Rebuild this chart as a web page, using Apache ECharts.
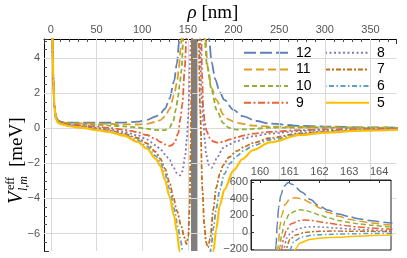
<!DOCTYPE html>
<html><head><meta charset="utf-8">
<script src="https://cdn.jsdelivr.net/npm/echarts@6/dist/echarts.min.js"></script>
<style>html,body{margin:0;padding:0;background:#fff}#c{width:407px;height:258px}</style>
</head><body><div id="c"></div>
<script>
// ---------- data ----------
const names = ['12','11','10','9','8','7','6','5'];
const xTicks = [0,50,100,150,200,250,300,350];
const yTicks = [-6,-4,-2,0,2,4];
const bandMain = [153.5, 160.5];
const bandInset = [159.6, 160.33];

// main plot, left branch (rho < ring) and right branch (rho > ring)
const rhoL12 = [1.2,1.6,2,2.7,3.8,5.7,8,12,20,35,50,65,80,95,105,115,120,125,130,135,138,140.6,142.5,144];
const vL12   = [9,5.6,4.3,2.8,1.35,0.65,0.45,0.37,0.33,0.32,0.32,0.32,0.33,0.38,0.48,0.68,0.85,1.12,1.7,2.7,3.7,5.0,7,10];
const rhoR12 = [167,169.5,171.5,173.4,176,180,185,190,200,210,225,240,273,300,340,380];
const vR12   = [12,8,6.2,5.0,3.8,2.8,2.05,1.62,1.05,0.7,0.42,0.27,0.14,0.1,0.06,0.04];

const rhoL11 = [1.2,1.6,2,2.7,3.8,5.7,8,12,20,35,50,65,80,95,105,115,120,125,130,135,138,140,142,143.5,145,147];
const vL11   = [9,5.6,4.3,2.8,1.33,0.62,0.42,0.34,0.3,0.28,0.27,0.25,0.23,0.22,0.26,0.37,0.47,0.68,1.1,1.9,2.6,3.3,4.5,5.3,7,10];
const rhoR11 = [165,167.5,169,172,176,181.5,188.7,195,203,221,240,273,300,340,380];
const vR11   = [14,7.5,5.2,3.4,2.3,1.6,0.8,0.5,0.32,0.16,0.1,0.08,0.06,0.04,0.03];

const rhoL10 = [1.2,1.6,2,2.7,3.8,5.7,8,12,20,35,50,65,80,95,105,115,120,125,130,134,137,139.3,141,143,145,147,149];
const vL10   = [9,5.6,4.3,2.8,1.32,0.6,0.4,0.32,0.26,0.22,0.2,0.16,0.11,0.05,-0.02,-0.09,-0.11,-0.1,0.05,0.4,1.1,1.8,2.5,3.3,5.1,8,11];
const rhoR10 = [164,166,168.5,171,176,181.5,188.7,195,203,212,221,240,273,300,340,380];
const vR10   = [14,8,5.0,3.6,2.2,1.05,0.3,0.03,-0.07,-0.06,-0.03,0.04,0.05,0.04,0.03,0.02];

const rhoL9 = [1.2,1.6,2,2.7,3.8,5.7,8,12,20,35,50,65,80,95,105,115,120,125,130,133,136,139.3,142,144,146.5,148.3,150,152];
const vL9   = [9,5.6,4.3,2.8,1.3,0.58,0.38,0.3,0.22,0.16,0.1,0.02,-0.08,-0.22,-0.38,-0.62,-0.78,-0.92,-1.0,-0.95,-0.75,-0.3,0.6,1.4,3.3,5.0,8,12];
const rhoR9 = [163,164.5,165.5,166.8,168.5,170.5,174,178,183,189,196,203,212,221,240,273,300,340,380];
const vR9   = [12,6,3.2,1.2,0.35,-0.15,-0.55,-0.75,-0.82,-0.76,-0.63,-0.52,-0.4,-0.3,-0.2,-0.1,-0.06,-0.04,-0.02];

const rhoL8 = [1.2,1.6,2,2.7,3.8,5.7,8,12,20,35,50,65,80,95,105,115,120,125,130,134,138,141.4,144,147,149,150.5,152.3,153.4,155];
const vL8   = [9,5.6,4.3,2.8,1.28,0.56,0.36,0.28,0.19,0.11,0.03,-0.06,-0.2,-0.4,-0.63,-0.97,-1.2,-1.48,-1.8,-2.2,-2.55,-2.68,-2.45,-1.6,-0.6,0.8,3.7,5.0,9];
const rhoR8 = [161.5,163,165,166.8,168.7,170,173,176,179,181.5,188.7,196,203.4,212,221.5,240,273,300,340,380];
const vR8   = [10,5.5,1.8,0.4,-0.7,-1.5,-2.1,-2.25,-2.0,-1.7,-1.12,-0.9,-0.74,-0.57,-0.45,-0.3,-0.15,-0.1,-0.06,-0.04];

const rhoL7 = [1.2,1.6,2,2.7,3.8,5.7,8,12,20,35,50,65,80,95,105,115,120,125,130,134,138,143,146,148.5,150.5,152,153,154,155];
const vL7   = [9,5.6,4.3,2.8,1.27,0.55,0.34,0.26,0.16,0.07,-0.03,-0.12,-0.3,-0.55,-0.85,-1.35,-1.75,-2.3,-3.1,-3.9,-4.7,-5.6,-6.2,-6.6,-6.2,-4.5,-1.5,2.5,8];
const rhoR7 = [161.5,163.5,166,168,170,172,174.5,178,181,185,188.7,195,203.4,212,221.5,240,273,300,340,380];
const vR7   = [8,1,-3.5,-5.5,-6.5,-6.8,-6.3,-4.6,-3.4,-2.6,-2.1,-1.65,-1.3,-1.05,-0.83,-0.55,-0.28,-0.18,-0.1,-0.06];

const rhoL6 = [1.2,1.6,2,2.7,3.8,5.7,8,12,20,35,50,65,80,95,105,115,120,125,130,135,139,142,145,147];
const vL6   = [9,5.6,4.3,2.8,1.26,0.54,0.33,0.25,0.14,0.05,-0.07,-0.17,-0.36,-0.66,-1.02,-1.58,-1.95,-2.6,-3.45,-4.6,-5.6,-6.4,-7.2,-8.5];
const rhoR6 = [170,173,175.5,178,181,185,190,196,203,212,221,240,273,300,340,380];
const vR6   = [-10,-8,-6.8,-5.7,-4.6,-3.5,-2.6,-2.0,-1.6,-1.25,-1.0,-0.65,-0.33,-0.2,-0.12,-0.07];

const rhoL5 = [1.2,1.6,2,2.7,3.8,5.7,8,12,20,35,50,65,80,95,105,115,120,125,130,135,138,141,143.5];
const vL5   = [9,5.6,4.3,2.8,1.25,0.52,0.31,0.23,0.12,0.03,-0.1,-0.21,-0.42,-0.77,-1.15,-1.75,-2.15,-2.95,-3.9,-5.0,-5.9,-7.0,-8.5];
const rhoR5 = [173,176,178,181,185,190,200,210,221,240,273,300,340,380];
const vR5   = [-10,-7.8,-7.0,-5.8,-4.4,-3.5,-2.4,-1.75,-1.25,-0.8,-0.38,-0.24,-0.13,-0.08];

// inset (rho 160..164 nm)
const rhoI12 = [160.50,160.54,160.58,160.63,160.70,160.80,160.95,161.10,161.40,161.70,161.96,162.30,162.63,163.00,163.30,163.75,164.30,164.45];
const vI12   = [-400,-166,97,300,440,550,594,570,481,390,319,262,218,185,160,135,113,108];
const rhoI11 = [160.57,160.62,160.67,160.73,160.84,161.00,161.17,161.40,161.73,162.00,162.30,162.63,163.00,163.30,163.75,164.30,164.45];
const vI11   = [-400,-150,70,200,330,395,412,400,350,290,235,190,155,132,108,88,84];
const rhoI10 = [160.62,160.67,160.73,160.84,161.00,161.29,161.50,161.73,162.00,162.30,162.63,163.00,163.30,163.75,164.30,164.45];
const vI10   = [-400,-180,-20,130,225,267,262,240,205,170,140,115,100,82,65,61];
const rhoI9 = [160.68,160.73,160.80,160.90,161.05,161.29,161.50,161.73,162.00,162.30,162.63,163.00,163.30,163.75,164.30,164.45];
const vI9   = [-400,-200,-60,30,100,135,145,140,125,108,90,72,62,48,36,33];
const rhoI8 = [160.74,160.80,160.90,161.05,161.29,161.50,161.80,162.10,162.50,163.00,163.50,164.00,164.30,164.45];
const vI8   = [-400,-200,-70,0,40,58,64,60,50,38,28,20,16,14];
const rhoI7 = [160.81,160.88,161.00,161.20,161.50,161.90,162.40,163.00,163.60,164.30,164.45];
const vI7   = [-400,-200,-90,-35,-5,8,12,11,9,7,6];
const rhoI6 = [160.93,161.00,161.15,161.40,161.80,162.30,162.63,163.20,163.80,164.30,164.45];
const vI6   = [-400,-210,-110,-60,-34,-28,-24,-19,-17,-16,-15];
const rhoI5 = [161.10,161.17,161.35,161.70,162.10,162.63,163.20,163.80,164.30,164.45];
const vI5   = [-400,-210,-130,-85,-70,-62,-50,-42,-37,-35];

// ---------- styles ----------
const colors = ['#5E81B5','#E19C24','#8FB032','#EB6235','#8778B3','#C56E1A','#5D9EC7','#FFBF00'];
const dashes = [[12,4],[8,4],[5,3],[7,2.5,2,2.5],[2,2.5],[5,2,2,2],[1.5,2.5,5,2.5],'solid'];
const widths = [1.8,1.8,1.8,1.8,1.8,1.8,1.8,2.2];

const mainL = [[rhoL12,vL12],[rhoL11,vL11],[rhoL10,vL10],[rhoL9,vL9],[rhoL8,vL8],[rhoL7,vL7],[rhoL6,vL6],[rhoL5,vL5]];
const mainR = [[rhoR12,vR12],[rhoR11,vR11],[rhoR10,vR10],[rhoR9,vR9],[rhoR8,vR8],[rhoR7,vR7],[rhoR6,vR6],[rhoR5,vR5]];
const inset = [[rhoI12,vI12],[rhoI11,vI11],[rhoI10,vI10],[rhoI9,vI9],[rhoI8,vI8],[rhoI7,vI7],[rhoI6,vI6],[rhoI5,vI5]];

const pairs = (r, v) => r.map((x, i) => [x, v[i]]);
const gapX = (bandMain[0] + bandMain[1]) / 2;

const lblFont = 'Liberation Sans';
const serif = 'Liberation Serif';
const minusFmt = v => String(v).replace('-', '\u2212');

const series = [];
// gridlines
series.push({
  type: 'line', data: [], xAxisIndex: 0, yAxisIndex: 0, z: 1, silent: true,
  markLine: {
    silent: true, symbol: ['none','none'], animation: false,
    label: { show: false },
    lineStyle: { type: 'solid', color: '#dadada', width: 1 },
    data: xTicks.map(v => ({ xAxis: v })).concat(yTicks.map(v => ({ yAxis: v })))
  }
});
// gray band main
series.push({
  type: 'line', data: [], xAxisIndex: 0, yAxisIndex: 0, z: 1.5, silent: true,
  markArea: { silent: true, itemStyle: { color: '#7f7f7f', opacity: 1 },
    data: [[{ xAxis: bandMain[0] }, { xAxis: bandMain[1] }]] }
});
names.forEach((n, i) => {
  series.push({
    type: 'line', name: n, xAxisIndex: 0, yAxisIndex: 0, z: 3 + i,
    data: pairs(mainL[i][0], mainL[i][1]).concat([[gapX, '-']], pairs(mainR[i][0], mainR[i][1])),
    symbol: 'none', smooth: 0.3, smoothMonotone: 'x', clip: true, connectNulls: false,
    lineStyle: { color: colors[i], width: widths[i], type: dashes[i] },
    itemStyle: { color: colors[i] }
  });
});
// inset band
series.push({
  type: 'line', data: [], xAxisIndex: 1, yAxisIndex: 1, zlevel: 1, z: 1, silent: true,
  markArea: { silent: true, itemStyle: { color: '#7f7f7f', opacity: 1 },
    data: [[{ xAxis: bandInset[0] }, { xAxis: bandInset[1] }]] }
});
names.forEach((n, i) => {
  series.push({
    type: 'line', name: n, xAxisIndex: 1, yAxisIndex: 1, zlevel: 1, z: 3 + i,
    data: pairs(inset[i][0], inset[i][1]),
    symbol: 'none', smooth: 0.3, smoothMonotone: 'x', clip: true,
    lineStyle: { color: colors[i], width: 1.5, type: dashes[i] }
  });
});

const legendBase = {
  orient: 'vertical', itemWidth: 44, itemHeight: 14, itemGap: 2.7, top: 45.7,
  selectedMode: false, padding: 0,
  itemStyle: { opacity: 0, borderWidth: 0 },
  textStyle: { fontSize: 14, color: '#000', fontFamily: lblFont, padding: [0,0,0,3] }
};

const option = {
  animation: false,
  backgroundColor: '#fff',
  grid: [
    { left: 44, right: 10.5, top: 39, bottom: 7 },
    { left: 251, top: 180, width: 140, height: 70, show: true, backgroundColor: '#fff',
      borderColor: '#222', borderWidth: 1, zlevel: 1 }
  ],
  legend: [
    Object.assign({}, legendBase, { left: 243, data: names.slice(0, 4) }),
    Object.assign({}, legendBase, { left: 324, data: names.slice(4) })
  ],
  xAxis: [
    { type: 'value', gridIndex: 0, position: 'top', min: -7.5, max: 378.5, splitNumber: 8,
      axisLine: { show: true, onZero: false, lineStyle: { color: '#000', width: 1 } },
      axisTick: { show: true, inside: true, length: 5, lineStyle: { color: '#333' } },
      minorTick: { show: true, splitNumber: 5, length: 3, lineStyle: { color: '#555' } },
      splitLine: { show: false },
      axisLabel: { fontSize: 11, color: '#555', fontFamily: lblFont, margin: 4, showMinLabel: false, showMaxLabel: false }
    },
    { type: 'value', gridIndex: 1, position: 'top', min: 159.7, max: 164.4, splitNumber: 5, zlevel: 1,
      axisLine: { show: true, onZero: false, lineStyle: { color: '#222', width: 1 } },
      axisTick: { show: true, inside: true, length: 3, lineStyle: { color: '#333' } },
      splitLine: { show: false },
      axisLabel: { fontSize: 11, color: '#555', fontFamily: lblFont, margin: 3, showMinLabel: false, showMaxLabel: false }
    }
  ],
  yAxis: [
    { type: 'value', gridIndex: 0, min: -7, max: 5.1, splitNumber: 6,
      axisLine: { show: true, onZero: false, lineStyle: { color: '#000', width: 1 } },
      axisTick: { show: true, inside: true, length: 5, lineStyle: { color: '#333' } },
      minorTick: { show: true, splitNumber: 4, length: 3, lineStyle: { color: '#555' } },
      splitLine: { show: false },
      axisLabel: { fontSize: 11, color: '#555', fontFamily: lblFont, margin: 4, formatter: minusFmt,
        showMinLabel: false, showMaxLabel: false }
    },
    { type: 'value', gridIndex: 1, min: -215, max: 625, splitNumber: 4, zlevel: 1,
      axisLine: { show: true, onZero: false, lineStyle: { color: '#222', width: 1 } },
      axisTick: { show: true, inside: true, length: 3, lineStyle: { color: '#333' } },
      splitLine: { show: false },
      axisLabel: { fontSize: 11, color: '#555', fontFamily: lblFont, margin: 3, formatter: minusFmt,
        showMinLabel: false, showMaxLabel: false }
    }
  ],
  graphic: [
    { type: 'text', x: 213, y: 13, silent: true,
      style: { text: '{i|\u03c1} [nm]', fontSize: 19, fontFamily: serif, fill: '#000',
        align: 'center', verticalAlign: 'middle',
        rich: { i: { fontStyle: 'italic', fontSize: 19, fontFamily: serif } } } },
    { type: 'group', x: 17, y: 204, rotation: Math.PI / 2, silent: true,
      children: [
        { type: 'text', x: 0, y: 0, style: { text: 'V', fontSize: 20, fontStyle: 'italic', fontFamily: serif, fill: '#000', align: 'left', verticalAlign: 'middle' } },
        { type: 'text', x: 14, y: -6, style: { text: 'eff', fontSize: 12, fontFamily: serif, fill: '#000', align: 'left', verticalAlign: 'middle' } },
        { type: 'text', x: 13, y: 7, style: { text: 'l,m', fontSize: 12, fontStyle: 'italic', fontFamily: serif, fill: '#000', align: 'left', verticalAlign: 'middle' } },
        { type: 'text', x: 37, y: 0, style: { text: '[meV]', fontSize: 19, fontFamily: serif, fill: '#000', align: 'left', verticalAlign: 'middle' } }
      ] }
  ],
  series: series
};

const chart = echarts.init(document.getElementById('c'), null, { renderer: 'canvas' });
chart.setOption(option);
</script></body></html>
